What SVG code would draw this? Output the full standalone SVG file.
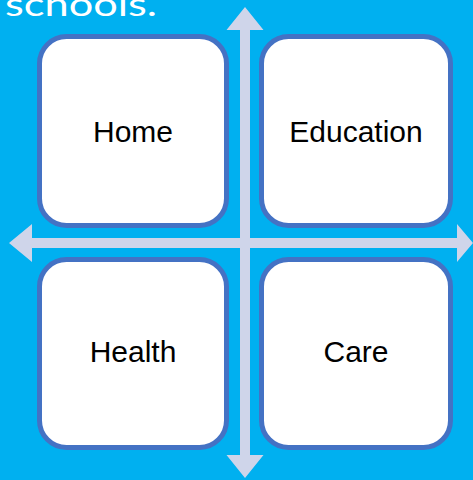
<svg xmlns="http://www.w3.org/2000/svg" width="473" height="480" viewBox="0 0 473 480">
<style>
.box{fill:#FFFFFF;stroke:#4472C4;stroke-width:5}
.arrow{fill:#CFD5EA;stroke:none}
.lbl{font-family:"Liberation Sans",Arial,sans-serif;font-size:30px;fill:#000000;text-anchor:middle}
.title{font-family:"Lato","Open Sans",sans-serif;font-size:32px;fill:#FFFFFF}
</style>
<rect x="0" y="0" width="473" height="480" fill="#00B0F0"/>
<text class="title" x="5" y="15.5" textLength="152" lengthAdjust="spacingAndGlyphs">schools.</text>
<g id="connectors">
<polygon class="arrow" points="245,7 263.5,30 250,30 250,455 263.5,455 245,478 226.5,455 240,455 240,30 226.5,30"/>
<polygon class="arrow" points="9,243 32,224 32,238 457,238 457,224 473,243 457,262 457,248 32,248 32,262"/>
</g>
<g id="home">
<rect class="box" x="39.5" y="36.5" width="187" height="189" rx="27"/>
<text class="lbl" x="133" y="142">Home</text>
</g>
<g id="education">
<rect class="box" x="261.5" y="36.5" width="189" height="189" rx="27"/>
<text class="lbl" x="356" y="142">Education</text>
</g>
<g id="health">
<rect class="box" x="39.5" y="259.5" width="187" height="188" rx="27"/>
<text class="lbl" x="133" y="362">Health</text>
</g>
<g id="care">
<rect class="box" x="261.5" y="259.5" width="189" height="188" rx="27"/>
<text class="lbl" x="356" y="362">Care</text>
</g>
</svg>
